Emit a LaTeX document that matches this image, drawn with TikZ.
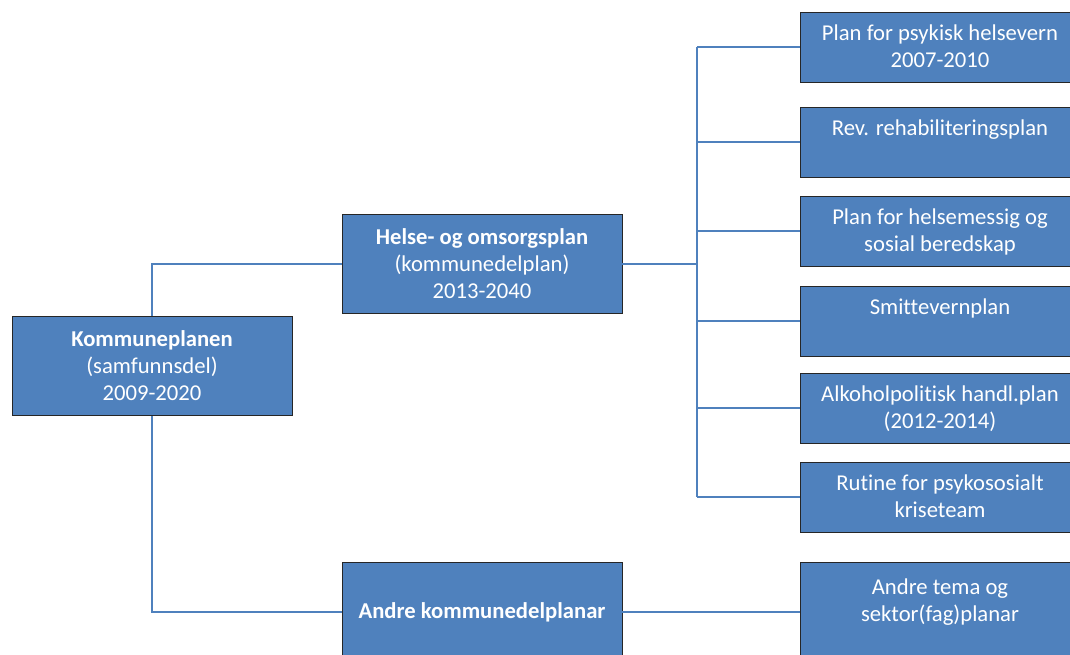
\documentclass[tikz,border=0pt]{standalone}
\usepackage{fontspec}
\setmainfont{Carlito}[Ligatures={NoCommon}]
\usepackage{tikz}
\definecolor{planblue}{HTML}{4F81BD}
\definecolor{planedge}{HTML}{262626}
\tikzset{
  plan/.style={draw=planedge, line width=0.6pt, fill=planblue, text=white, align=center,
    inner sep=0pt, minimum width=210pt, minimum height=74.25pt, font=\fontsize{17}{20.25}\selectfont},
  delplan/.style={plan, minimum height=52.5pt, label={[plantext]north:#1}},
  plantext/.style={anchor=north, yshift=-9.5pt, text=white, align=center, inner sep=0pt,
    font=\fontsize{17}{20.25}\selectfont},
  link/.style={draw=planblue, line width=2.2pt}
}
\begin{document}
\begin{tikzpicture}[x=0.75pt,y=0.75pt,yscale=-1,xscale=1]
\useasboundingbox (0,0) rectangle (1070,655);
\clip (0,0) rectangle (1070,655);
% main plans
\node[plan] (kp) at (152,366) {\textbf{Kommuneplanen}\\(samfunnsdel)\\2009-2020};
\node[plan] (hop) at (482,264) {\textbf{Helse- og omsorgsplan}\\(kommunedelplan)\\2013-2040};
\node[plan] (akp) at (482,612) {\textbf{Andre kommunedelplanar}};
% sub plans
\node[delplan={Plan for psykisk helsevern\\2007-2010}] (p1) at (940,47) {};
\node[delplan={Rev. rehabiliteringsplan}] (p2) at (940,142) {};
\node[delplan={Plan for helsemessig og\\sosial beredskap}] (p3) at (940,231) {};
\node[delplan={Smittevernplan}] (p4) at (940,321) {};
\node[delplan={Alkoholpolitisk handl.plan\\(2012-2014)}] (p5) at (940,408) {};
\node[delplan={Rutine for psykososialt\\kriseteam}] (p6) at (940,497) {};
\node[plan, label={[plantext, yshift=-3pt]north:Andre tema og\\sektor(fag)planar}] (atp) at (940,612) {};
\coordinate (trunk) at (697,264);

\draw[link] (kp.north) |- (hop.west);
\draw[link] (kp.south) |- (akp.west);
\draw[link] (hop.east) -- (trunk);
\draw[link] (trunk |- p1.west) -- (trunk |- p6.west);
\foreach \p in {p1,p2,p3,p4,p5,p6}
  \draw[link] (trunk |- \p.west) -- (\p.west);
\draw[link] (akp.east) -- (atp.west);

\end{tikzpicture}
\end{document}
